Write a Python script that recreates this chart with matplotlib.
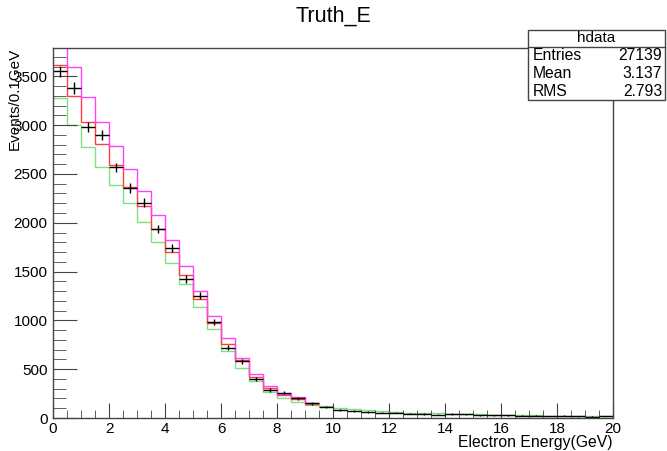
import numpy as np
import matplotlib
matplotlib.use('Agg')
import matplotlib.pyplot as plt
from matplotlib.patches import Rectangle
from matplotlib.lines import Line2D
from matplotlib.ticker import MultipleLocator

plt.rcParams['font.family'] = ['Liberation Sans', 'DejaVu Sans']

# 40 bins of 0.5 GeV from 0 to 20
edges = np.arange(0, 20.01, 0.5)

hdata = [3550, 3379, 2980, 2900, 2566, 2354, 2207, 1938, 1740, 1422,
         1254, 981, 721, 581, 403, 287, 260, 200, 150, 116,
         82, 72, 62, 55, 55, 45, 40, 35, 40, 38,
         30, 28, 30, 22, 25, 20, 22, 18, 15, 20]
hred = [3618, 3300, 3031, 2805, 2593, 2371, 2170, 1935, 1705, 1469,
        1220, 975, 762, 590, 420, 311, 235, 195, 140]
hmag = [4000, 3594, 3287, 3031, 2790, 2555, 2324, 2078, 1822, 1555,
        1302, 1042, 817, 612, 448, 331, 243, 212, 150]
hgreen = [3277, 3003, 2775, 2576, 2388, 2200, 2006, 1801, 1592, 1370,
          1138, 915, 690, 512, 379, 270, 205, 164, 135, 120,
          106, 89, 78, 68, 62, 56, 52, 47, 43, 40,
          37, 34, 31, 29, 27, 25, 23, 21, 19, 18]

stat_names = ['Entries', 'Mean', 'RMS']
stat_vals = ['27139', '3.137', '2.793']

W, H = 667, 451
fig = plt.figure(figsize=(W / 100, H / 100), dpi=100)
ax = fig.add_axes([53 / W, 1 - 418 / H, 560 / W, 370 / H])

ax.stairs(hgreen, edges, color='#80e080', lw=1, baseline=None)
ax.stairs(hred, edges[:len(hred) + 1], color='#ff4040', lw=1, baseline=None)
ax.stairs(hmag, edges[:len(hmag) + 1], color='#ff40ff', lw=1, baseline=None)

centers = 0.5 * (edges[:-1] + edges[1:])
ax.errorbar(centers, hdata, xerr=0.25, yerr=np.sqrt(hdata), fmt='none',
            ecolor='black', elinewidth=1, capsize=0)

ax.set_xlim(0, 20)
ax.set_ylim(0, 3790)
ax.xaxis.set_major_locator(MultipleLocator(2))
ax.xaxis.set_minor_locator(MultipleLocator(0.5))
ax.yaxis.set_major_locator(MultipleLocator(500))
ax.yaxis.set_minor_locator(MultipleLocator(100))
ax.tick_params(axis='both', which='both', direction='in', labelsize=11,
               color='#444444', top=False, right=False)
ax.tick_params(axis='x', which='major', length=11, pad=3)
ax.tick_params(axis='x', which='minor', length=6)
ax.tick_params(axis='y', which='major', length=17, pad=4)
ax.tick_params(axis='y', which='minor', length=9)
for s in ax.spines.values():
    s.set_color('#444444')
    s.set_linewidth(1)

fig.text(0.5, 1 - 16 / H, 'Truth_E', ha='center', va='center', fontsize=15.5)
fig.text(613 / W, 1 - 442 / H, 'Electron Energy(GeV)', ha='right',
         va='center', fontsize=11.3)
fig.text(15 / W, 1 - 48 / H, 'Events/0.1GeV', ha='center', va='top',
         rotation=90, fontsize=11)

# stats box
bx0, by0, bx1, by1 = 528, 30, 665, 100
fig.patches.append(Rectangle((bx0 / W, 1 - by1 / H), (bx1 - bx0) / W,
                             (by1 - by0) / H, transform=fig.transFigure,
                             facecolor='white', edgecolor='#444444', lw=1))
fig.lines.append(Line2D([bx0 / W, bx1 / W], [1 - 47 / H, 1 - 47 / H],
                        transform=fig.transFigure, color='#444444', lw=1))
fig.text((bx0 + bx1) / 2 / W, 1 - 38.5 / H, 'hdata', ha='center',
         va='center', fontsize=11)
for i, (n, v) in enumerate(zip(stat_names, stat_vals)):
    y = 1 - (56 + 17.5 * i) / H
    fig.text(533 / W, y, n, ha='left', va='center', fontsize=11.3)
    fig.text(662 / W, y, v, ha='right', va='center', fontsize=11.3)

fig.savefig('out.png', dpi=100)
